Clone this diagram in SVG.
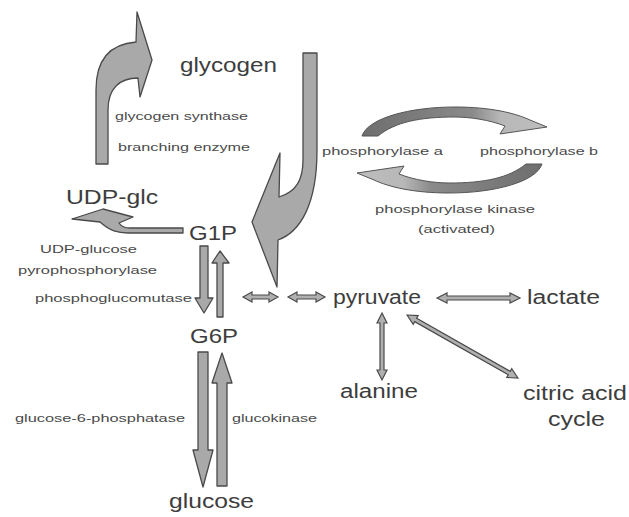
<svg xmlns="http://www.w3.org/2000/svg" width="629" height="517" viewBox="0 0 629 517">
<style>
.big{font-family:"Liberation Sans",Arial,sans-serif;font-size:20px;fill:#3d3d3d}
.sm{font-family:"Liberation Sans",Arial,sans-serif;font-size:11.5px;fill:#4a4a4a}
.blk{fill:#a9a9a9;stroke:#4a4a4a;stroke-width:1.3;stroke-linejoin:round}
.dbl{fill:#b0b0b0;stroke:#4a4a4a;stroke-width:1.2;stroke-linejoin:miter}
</style>
<defs>
<linearGradient id="gTop" x1="0" y1="0" x2="1" y2="0">
<stop offset="0" stop-color="#6e6e6e"/><stop offset="0.6" stop-color="#8a8a8a"/><stop offset="0.75" stop-color="#b8b8b8"/><stop offset="1" stop-color="#bdbdbd"/>
</linearGradient>
<linearGradient id="gBot" x1="1" y1="0" x2="0" y2="0">
<stop offset="0" stop-color="#6e6e6e"/><stop offset="0.6" stop-color="#8a8a8a"/><stop offset="0.75" stop-color="#b8b8b8"/><stop offset="1" stop-color="#bdbdbd"/>
</linearGradient>
</defs>
<rect width="629" height="517" fill="#ffffff"/>

<g id="connectors">
<path class="blk" d="M96,164 L96,90 C96,60 110,44 136,42 L137,12 L152,60 L140,97 L138,78 C120,78 108,88 108,110 L108,164 Z"/>
<path class="blk" d="M303,53 L317,53 L317,150 C317,205 300,232 278,240 L277,287 L252,222 L280,153 L279,197 C296,192 303,180 303,160 Z"/>
<path class="blk" d="M183,228 L130,228 C124,228 121,226 119,223 L133,217 L103,209 L72,219 L100,222 C110,231 118,233 128,233 L183,233 Z"/>
<path class="blk" d="M200,246 L208,246 L208,298 L213,298 L204,313 L195,298 L200,298 Z"/>
<path class="blk" d="M217,317 L223,317 L223,263 L229,263 L220,251 L212,263 L217,263 Z"/>
<path class="blk" d="M198,352 L208,352 L208,450 L213,450 L203,487 L193,450 L198,450 Z"/>
<path class="blk" d="M217,486 L227,486 L227,383 L232,383 L222,353 L212,383 L217,383 Z"/>
<path fill="url(#gTop)" stroke="#555" stroke-width="1" d="M362,136 C368,118 410,107 455,107 C490,107 515,113 530,120 L547,127 L500,134 L505,126 C490,120 470,117 455,117 C420,117 395,122 378,136 Z"/>
<path fill="url(#gBot)" stroke="#555" stroke-width="1" d="M542,164 C536,182 494,193 449,193 C414,193 389,187 374,180 L357,173 L404,166 L399,174 C414,180 434,183 449,183 C484,183 509,178 526,164 Z"/>
<path class="dbl" d="M243,297 L252,292 L252,295 L269,295 L269,292 L278,297 L269,302 L269,299 L252,299 L252,302 Z"/>
<path class="dbl" d="M288,297 L297,292 L297,295 L316,295 L316,292 L325,297 L316,302 L316,299 L297,299 L297,302 Z"/>
<path class="dbl" d="M437,298 L447,293 L447,296 L510,296 L510,293 L520,298 L510,303 L510,300 L447,300 L447,303 Z"/>
<path class="dbl" d="M382,313 L387,323 L384,323 L384,370 L387,370 L382,380 L377,370 L380,370 L380,323 L377,323 Z"/>
<path class="dbl" transform="translate(407,315) rotate(29.6)" d="M0,0 L10,-5 L10,-2 L117.6,-2 L117.6,-5 L127.6,0 L117.6,5 L117.6,2 L10,2 L10,5 Z"/>
</g>

<g id="glycogen"><text class="big" x="180" y="72" textLength="97" lengthAdjust="spacingAndGlyphs">glycogen</text></g>
<g id="udpglc"><text class="big" x="66" y="204" textLength="92" lengthAdjust="spacingAndGlyphs">UDP-glc</text></g>
<g id="g1p"><text class="big" x="189" y="240" textLength="48" lengthAdjust="spacingAndGlyphs">G1P</text></g>
<g id="g6p"><text class="big" x="190" y="343" textLength="48" lengthAdjust="spacingAndGlyphs">G6P</text></g>
<g id="glucose"><text class="big" x="169" y="508" textLength="85" lengthAdjust="spacingAndGlyphs">glucose</text></g>
<g id="pyruvate"><text class="big" x="333" y="304" textLength="88" lengthAdjust="spacingAndGlyphs">pyruvate</text></g>
<g id="lactate"><text class="big" x="527" y="304" textLength="73" lengthAdjust="spacingAndGlyphs">lactate</text></g>
<g id="alanine"><text class="big" x="340" y="398" textLength="78" lengthAdjust="spacingAndGlyphs">alanine</text></g>
<g id="citric"><text class="big" x="523" y="400" textLength="104" lengthAdjust="spacingAndGlyphs">citric acid</text><text class="big" x="548" y="426" textLength="57" lengthAdjust="spacingAndGlyphs">cycle</text></g>

<g id="labels">
<text class="sm" x="115" y="120" textLength="133" lengthAdjust="spacingAndGlyphs">glycogen synthase</text>
<text class="sm" x="118" y="151" textLength="132" lengthAdjust="spacingAndGlyphs">branching enzyme</text>
<text class="sm" x="40" y="253" textLength="97" lengthAdjust="spacingAndGlyphs">UDP-glucose</text>
<text class="sm" x="18" y="274" textLength="139" lengthAdjust="spacingAndGlyphs">pyrophosphorylase</text>
<text class="sm" x="35" y="302" textLength="157" lengthAdjust="spacingAndGlyphs">phosphoglucomutase</text>
<text class="sm" x="15" y="422" textLength="170" lengthAdjust="spacingAndGlyphs">glucose-6-phosphatase</text>
<text class="sm" x="232" y="422" textLength="85" lengthAdjust="spacingAndGlyphs">glucokinase</text>
<text class="sm" x="322" y="155" textLength="121" lengthAdjust="spacingAndGlyphs">phosphorylase a</text>
<text class="sm" x="480" y="155" textLength="118" lengthAdjust="spacingAndGlyphs">phosphorylase b</text>
<text class="sm" x="375" y="213" textLength="160" lengthAdjust="spacingAndGlyphs">phosphorylase kinase</text>
<text class="sm" x="418" y="233" textLength="77" lengthAdjust="spacingAndGlyphs">(activated)</text>
</g>
</svg>
